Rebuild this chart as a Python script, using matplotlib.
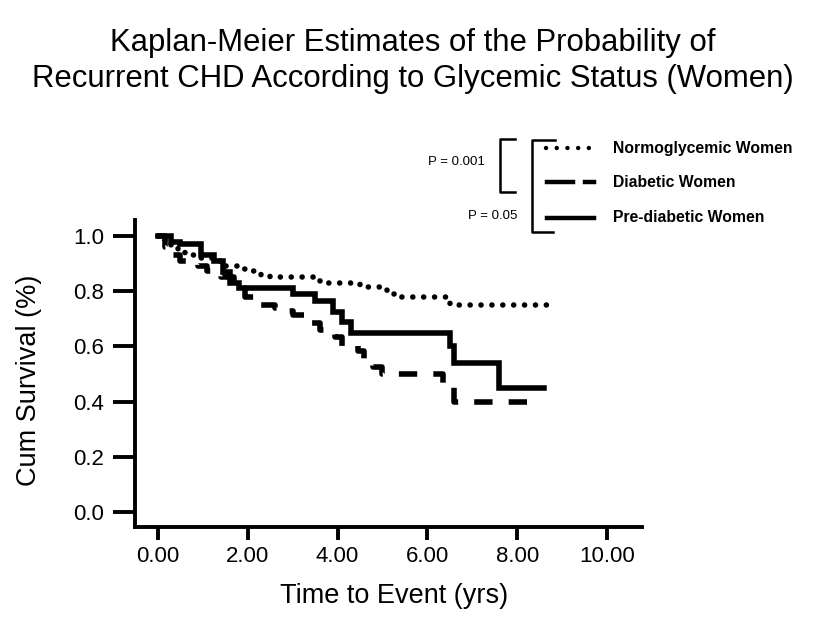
import matplotlib
matplotlib.use("Agg")
import matplotlib.pyplot as plt
from matplotlib.lines import Line2D

plt.rcParams['font.family'] = ['Liberation Sans', 'DejaVu Sans']

title = "Kaplan-Meier Estimates of the Probability of\nRecurrent CHD According to Glycemic Status (Women)"
xlabel = "Time to Event (yrs)"
ylabel = "Cum Survival (%)"
xticks = [0, 2, 4, 6, 8, 10]
xtick_labels = ["0.00", "2.00", "4.00", "6.00", "8.00", "10.00"]
yticks = [0.0, 0.2, 0.4, 0.6, 0.8, 1.0]
ytick_labels = ["0.0", "0.2", "0.4", "0.6", "0.8", "1.0"]

# Normoglycemic women
norm_t = [0.0, 0.15, 0.3, 0.45, 0.6, 0.9, 1.2, 1.5, 1.8, 2.0, 2.3, 2.5, 3.6, 4.5, 5.1, 5.3, 6.5, 8.75]
norm_s = [1.0, 0.98, 0.96, 0.945, 0.93, 0.92, 0.91, 0.89, 0.88, 0.875, 0.86, 0.85, 0.83, 0.815, 0.79, 0.78, 0.75, 0.75]

# Diabetic women
diab_t = [0.0, 0.15, 0.3, 0.5, 0.9, 1.1, 1.4, 1.7, 1.95, 2.2, 2.6, 2.8, 3.0, 3.3, 3.6, 3.95, 4.1, 4.45, 4.6, 4.8, 5.0, 6.35, 6.6, 8.55]
diab_s = [1.0, 0.96, 0.93, 0.91, 0.89, 0.875, 0.85, 0.81, 0.78, 0.75, 0.74, 0.73, 0.715, 0.685, 0.66, 0.635, 0.60, 0.585, 0.545, 0.525, 0.50, 0.46, 0.40, 0.40]

# Pre-diabetic women
pre_t = [0.0, 0.3, 0.5, 0.95, 1.25, 1.45, 1.6, 1.8, 3.0, 3.5, 3.9, 4.1, 4.3, 6.5, 6.6, 7.6, 8.6]
pre_s = [1.0, 0.98, 0.97, 0.93, 0.91, 0.87, 0.83, 0.81, 0.79, 0.765, 0.725, 0.69, 0.65, 0.60, 0.54, 0.45, 0.45]

legend_labels = ["Normoglycemic Women", "Diabetic Women", "Pre-diabetic Women"]
p_labels = ["P = 0.001", "P = 0.05"]

W, H = 826, 624
fig = plt.figure(figsize=(W / 100, H / 100), dpi=100)
fig.patch.set_facecolor('white')

def fx(px):
    return px / W

def fy(py):
    return 1 - py / H

ax = fig.add_axes([fx(135), fy(527), fx(642) - fx(135), fy(220) - fy(527)])
LW = 4.0
ax.step(norm_t, norm_s, where='post', color='black', lw=LW,
        linestyle=(0, (0.01, 1.95)), dash_capstyle='round')
ax.step(diab_t, diab_s, where='post', color='black', lw=LW,
        linestyle=(0, (3.3, 2.9)), dash_capstyle='butt')
ax.step(pre_t, pre_s, where='post', color='black', lw=LW,
        solid_joinstyle='miter')

ax.set_xlim(-0.51, 10.78)
ax.set_ylim(-0.054, 1.058)
ax.set_xticks(xticks)
ax.set_xticklabels(xtick_labels)
ax.set_yticks(yticks)
ax.set_yticklabels(ytick_labels)
for s in ['top', 'right']:
    ax.spines[s].set_visible(False)
for s in ['left', 'bottom']:
    ax.spines[s].set_linewidth(2.8)
ax.tick_params(axis='y', length=16, width=2.8, pad=6, labelsize=16)
ax.tick_params(axis='x', length=9, width=2.8, pad=5, labelsize=16)
ax.set_xlabel(xlabel, fontsize=19.5)
ax.set_ylabel(ylabel, fontsize=19.5)
ax.xaxis.set_label_coords(0.511, -0.183)
ax.yaxis.set_label_coords(-0.183, 0.479)

fig.text(0.5, fy(61), title, ha='center', va='center', fontsize=22.4, linespacing=1.25)

# Legend lines
lw_leg = 3.2
fig.add_artist(Line2D([fx(546), fx(592)], [fy(148), fy(148)], color='black', lw=lw_leg,
                      linestyle=(0, (0.01, 2.4)), dash_capstyle='round'))
fig.add_artist(Line2D([fx(547), fx(573)], [fy(182), fy(182)], color='black', lw=lw_leg))
fig.add_artist(Line2D([fx(585), fx(594)], [fy(182), fy(182)], color='black', lw=lw_leg))
fig.add_artist(Line2D([fx(547), fx(594)], [fy(218), fy(218)], color='black', lw=lw_leg))
for lab, py in zip(legend_labels, [148, 182, 217]):
    fig.text(fx(613), fy(py), lab, ha='left', va='center', fontsize=11.3, fontweight='bold')

# Brackets
blw = 1.8
fig.add_artist(Line2D([fx(515), fx(500), fx(500), fx(515)],
                      [fy(139), fy(139), fy(192), fy(192)], color='black', lw=blw))
fig.add_artist(Line2D([fx(555), fx(531.5), fx(531.5), fx(553)],
                      [fy(140), fy(140), fy(231.5), fy(231.5)], color='black', lw=blw))
fig.text(fx(485), fy(162), p_labels[0], ha='right', va='center', fontsize=9.5)
fig.text(fx(517), fy(216), p_labels[1], ha='right', va='center', fontsize=9.5)

fig.savefig("out.png", dpi=100, facecolor='white')
